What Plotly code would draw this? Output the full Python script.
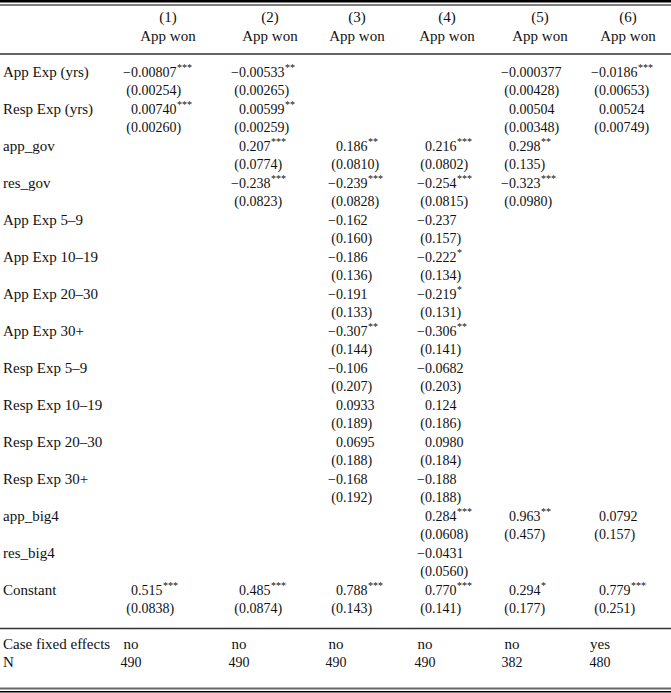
import plotly.graph_objects as go

# ---------------- data ----------------
variables = ["App Exp (yrs)", "Resp Exp (yrs)", "app_gov", "res_gov",
             "App Exp 5–9", "App Exp 10–19", "App Exp 20–30", "App Exp 30+",
             "Resp Exp 5–9", "Resp Exp 10–19", "Resp Exp 20–30", "Resp Exp 30+",
             "app_big4", "res_big4", "Constant"]
model_numbers = ["(1)", "(2)", "(3)", "(4)", "(5)", "(6)"]
dep_var = ["App won"] * 6

coef_1 = ["−0.00807", "0.00740", None, None, None, None, None, None, None, None, None, None, None, None, "0.515"]
coef_2 = ["−0.00533", "0.00599", "0.207", "−0.238", None, None, None, None, None, None, None, None, None, None, "0.485"]
coef_3 = [None, None, "0.186", "−0.239", "−0.162", "−0.186", "−0.191", "−0.307", "−0.106", "0.0933", "0.0695", "−0.168", None, None, "0.788"]
coef_4 = [None, None, "0.216", "−0.254", "−0.237", "−0.222", "−0.219", "−0.306", "−0.0682", "0.124", "0.0980", "−0.188", "0.284", "−0.0431", "0.770"]
coef_5 = ["−0.000377", "0.00504", "0.298", "−0.323", None, None, None, None, None, None, None, None, "0.963", None, "0.294"]
coef_6 = ["−0.0186", "0.00524", None, None, None, None, None, None, None, None, None, None, "0.0792", None, "0.779"]

se_1 = ["0.00254", "0.00260", None, None, None, None, None, None, None, None, None, None, None, None, "0.0838"]
se_2 = ["0.00265", "0.00259", "0.0774", "0.0823", None, None, None, None, None, None, None, None, None, None, "0.0874"]
se_3 = [None, None, "0.0810", "0.0828", "0.160", "0.136", "0.133", "0.144", "0.207", "0.189", "0.188", "0.192", None, None, "0.143"]
se_4 = [None, None, "0.0802", "0.0815", "0.157", "0.134", "0.131", "0.141", "0.203", "0.186", "0.184", "0.188", "0.0608", "0.0560", "0.141"]
se_5 = ["0.00428", "0.00348", "0.135", "0.0980", None, None, None, None, None, None, None, None, "0.457", None, "0.177"]
se_6 = ["0.00653", "0.00749", None, None, None, None, None, None, None, None, None, None, "0.157", None, "0.251"]

stars_1 = ["***", "***", "", "", "", "", "", "", "", "", "", "", "", "", "***"]
stars_2 = ["**", "**", "***", "***", "", "", "", "", "", "", "", "", "", "", "***"]
stars_3 = ["", "", "**", "***", "", "", "", "**", "", "", "", "", "", "", "***"]
stars_4 = ["", "", "***", "***", "", "*", "*", "**", "", "", "", "", "***", "", "***"]
stars_5 = ["", "", "**", "***", "", "", "", "", "", "", "", "", "**", "", "*"]
stars_6 = ["***", "", "", "", "", "", "", "", "", "", "", "", "", "", "***"]

footer_labels = ["Case fixed effects", "N"]
fixed_effects = ["no", "no", "no", "no", "no", "yes"]
n_obs = ["490", "490", "490", "490", "382", "480"]

coefs = [coef_1, coef_2, coef_3, coef_4, coef_5, coef_6]
ses = [se_1, se_2, se_3, se_4, se_5, se_6]
stars = [stars_1, stars_2, stars_3, stars_4, stars_5, stars_6]

# ---------------- layout constants ----------------
W, H = 671, 693
FAMILY = "Liberation Serif, Times New Roman, serif"
FS = 14                                      # numbers
TEXT_FONT = dict(family=FAMILY, size=15, color="#111111")
NUM_FONT = dict(family=FAMILY, size=FS, color="#111111")
STAR_FONT = dict(family=FAMILY, size=10, color="#111111")
LABEL_X = 3
HEAD_X = [168, 270, 357, 447, 540, 628]
DEC_X = [138, 246, 343, 432, 516, 606]      # decimal-point anchor of each column
FOOT_X = [131, 239, 336, 425, 512, 600]
GLYPH_W = {"−": 0.564, ".": 0.25}           # em widths (digits 0.5 em)
PAREN_W = 0.333 * FS
HEAD_Y = [18, 37]
BODY_Y0, LINE_H = 73, 18.5
FOOT_Y = [645, 663]
STAR_DY = -4.5

fig = go.Figure()


def text_width(s):
    return sum(GLYPH_W.get(ch, 0.5) for ch in s) * FS


def text_trace(xs, ys, texts, pos, font):
    fig.add_trace(go.Scatter(x=xs, y=ys, text=texts, mode="text", textposition=pos,
                             textfont=font, hoverinfo="skip", showlegend=False, cliponaxis=False))


# header
text_trace(HEAD_X, [HEAD_Y[0]] * 6, model_numbers, "middle center", TEXT_FONT)
text_trace(HEAD_X, [HEAD_Y[1]] * 6, dep_var, "middle center", TEXT_FONT)

# row labels
row_y = [BODY_Y0 + 2 * i * LINE_H for i in range(len(variables))]
text_trace([LABEL_X] * len(variables), row_y, variables, "middle right", TEXT_FONT)

# body cells
for j in range(6):
    cx, cy, ct, sx, sy, stx, kx, ky, kt = [], [], [], [], [], [], [], [], []
    for i, c in enumerate(coefs[j]):
        if c is None:
            continue
        lead = c[:c.index(".")]                 # part left of the decimal point
        x0 = DEC_X[j] - text_width(lead)
        cx.append(x0)
        cy.append(row_y[i])
        ct.append(c)
        if stars[j][i]:
            kx.append(x0 + text_width(c) + 0.5)
            ky.append(row_y[i] + STAR_DY)
            kt.append(stars[j][i])
        sx.append(DEC_X[j] - text_width("0") - PAREN_W)
        sy.append(row_y[i] + LINE_H)
        stx.append("(" + ses[j][i] + ")")
    text_trace(cx, cy, ct, "middle right", NUM_FONT)
    text_trace(sx, sy, stx, "middle right", NUM_FONT)
    if kt:
        text_trace(kx, ky, kt, "middle right", STAR_FONT)

# footer
text_trace([LABEL_X, LABEL_X], FOOT_Y, footer_labels, "middle right", TEXT_FONT)
text_trace(FOOT_X, [FOOT_Y[0]] * 6, fixed_effects, "middle center", TEXT_FONT)
text_trace(FOOT_X, [FOOT_Y[1]] * 6, n_obs, "middle center", NUM_FONT)

rules = [(1.3, 2.6, "#000000"), (5.0, 1.3, "#555555"), (54, 1.3, "#333333"),
         (628.5, 1.3, "#333333"), (688.5, 2.0, "#666666"), (691.8, 1.6, "#000000")]
shapes = [dict(type="line", xref="x", yref="y", x0=0, x1=W, y0=y, y1=y,
               line=dict(color=c, width=w)) for y, w, c in rules]

fig.update_layout(width=W, height=H, margin=dict(l=0, r=0, t=0, b=0),
                  paper_bgcolor="white", plot_bgcolor="white",
                  shapes=shapes, showlegend=False)
fig.update_xaxes(range=[0, W], visible=False, fixedrange=True)
fig.update_yaxes(range=[H, 0], visible=False, fixedrange=True)
fig.write_html("out.html", config={"displayModeBar": False, "staticPlot": True},
               post_script="document.body.style.margin='0';document.body.style.overflow='hidden';")
